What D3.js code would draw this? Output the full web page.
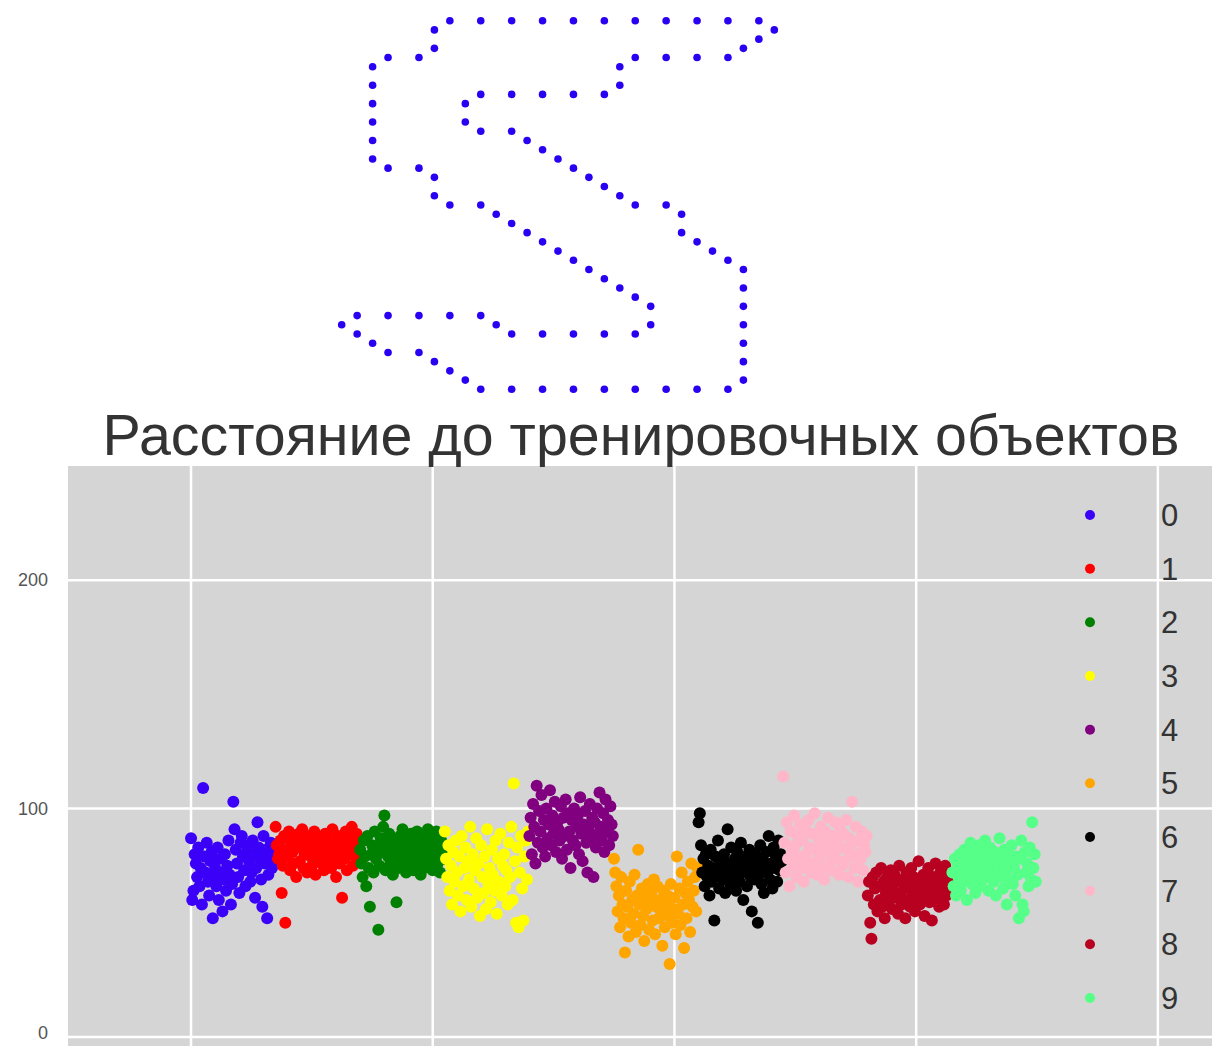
<!DOCTYPE html>
<html>
<head>
<meta charset="utf-8">
<script src="https://cdn.jsdelivr.net/npm/d3@7"></script>
<style>
  html, body { margin: 0; padding: 0; background: #ffffff; }
  svg { display: block; }
</style>
</head>
<body>
<svg id="chart" width="1219" height="1046"></svg>
<script>
// ---------- data ----------
const titleText = "Расстояние до тренировочных объектов";
const classLabels = ["0","1","2","3","4","5","6","7","8","9"];
const classColors = ["#3a00f8","#ff0000","#008000","#ffff00","#800080","#ffa500","#000000","#ffb6c8","#b80020","#55ff88"];
const yTicks = [0, 100, 200];
const xGrid = [0, 200, 400, 600, 800];

// distances to training objects, 70 per class
const dist0 = [
  87, 60, 64, 80, 76, 70, 83, 66, 74, 58,
  109, 79, 72, 85, 68, 62, 77, 81, 52, 70,
  74, 66, 83, 60, 78, 72, 55, 69, 80, 64,
  75, 86, 71, 58, 67, 103, 91, 82, 76, 70,
  63, 85, 88, 79, 73, 66, 81, 84, 77, 68,
  72, 86, 80, 61, 74, 94, 83, 78, 69, 57,
  88, 76, 82, 52, 71, 79, 85, 74, 80, 77];
const dist1 = [
  92, 84, 78, 80, 86, 63, 75, 88, 50, 82,
  79, 90, 73, 85, 81, 76, 87, 70, 83, 89,
  77, 84, 91, 74, 80, 86, 72, 82, 88, 79,
  75, 83, 90, 71, 85, 78, 81, 87, 76, 84,
  73, 89, 80, 82, 77, 86, 74, 91, 79, 83,
  70, 85, 88, 76, 81, 61, 84, 78, 90, 73,
  87, 80, 82, 92, 75, 86, 79, 89, 83, 77];
const dist2 = [
  82, 76, 70, 86, 79, 66, 88, 74, 57, 80,
  84, 72, 90, 78, 83, 47, 75, 87, 81, 92,
  97, 73, 85, 79, 89, 76, 82, 71, 86, 78,
  59, 84, 74, 88, 80, 91, 77, 83, 72, 86,
  79, 75, 89, 81, 73, 85, 78, 90, 76, 83,
  71, 87, 80, 74, 84, 78, 91, 82, 77, 88,
  73, 85, 79, 90, 76, 83, 72, 86, 80, 78];
const dist3 = [
  90, 78, 70, 84, 64, 75, 58, 81, 68, 86,
  72, 62, 79, 55, 88, 66, 74, 83, 60, 77,
  69, 92, 57, 80, 65, 73, 87, 61, 76, 53,
  84, 70, 63, 79, 56, 91, 67, 74, 59, 82,
  71, 64, 86, 54, 78, 68, 89, 62, 75, 80,
  66, 73, 58, 85, 70, 92, 60, 111, 77, 50,
  83, 48, 72, 88, 65, 51, 79, 86, 69, 90];
const dist4 = [
  88, 96, 80, 102, 92, 76, 110, 85, 99, 90,
  106, 83, 95, 79, 100, 87, 93, 108, 84, 97,
  89, 103, 81, 94, 91, 86, 101, 78, 96, 88,
  104, 82, 98, 90, 74, 95, 86, 100, 84, 92,
  97, 80, 105, 89, 77, 93, 99, 85, 72, 91,
  102, 87, 96, 70, 94, 83, 100, 89, 107, 92,
  86, 98, 81, 104, 90, 95, 84, 101, 93, 88];
const dist5 = [
  78, 72, 66, 55, 62, 48, 70, 58, 52, 37,
  64, 57, 44, 68, 50, 60, 54, 71, 46, 62,
  82, 58, 49, 65, 53, 42, 61, 56, 67, 47,
  59, 63, 51, 69, 45, 57, 66, 52, 60, 55,
  40, 64, 48, 58, 62, 53, 32, 67, 50, 56,
  61, 45, 79, 54, 65, 49, 72, 58, 39, 63,
  52, 68, 60, 46, 76, 57, 64, 70, 55, 74];
const dist6 = [
  94, 98, 84, 72, 78, 66, 80, 70, 75, 62,
  82, 68, 74, 51, 79, 71, 86, 65, 77, 73,
  69, 80, 63, 76, 91, 72, 67, 83, 74, 70,
  78, 64, 81, 75, 68, 85, 72, 60, 77, 79,
  66, 73, 82, 70, 55, 76, 69, 80, 74, 50,
  71, 84, 67, 78, 63, 75, 81, 72, 88, 69,
  76, 65, 83, 74, 79, 68, 86, 73, 80, 77];
const dist7 = [
  114, 85, 72, 94, 78, 66, 90, 81, 75, 97,
  84, 70, 88, 79, 93, 74, 86, 68, 91, 80,
  77, 95, 83, 72, 89, 76, 98, 82, 71, 87,
  79, 92, 74, 85, 69, 90, 81, 96, 76, 84,
  73, 88, 80, 94, 78, 86, 71, 91, 83, 75,
  89, 77, 95, 82, 70, 87, 79, 103, 85, 74,
  92, 80, 68, 86, 78, 90, 73, 84, 81, 88];
const dist8 = [
  62, 68, 50, 43, 70, 58, 65, 72, 55, 66,
  60, 74, 57, 68, 52, 63, 70, 59, 66, 73,
  56, 64, 71, 61, 68, 54, 75, 62, 58, 69,
  65, 52, 72, 60, 67, 57, 74, 63, 70, 55,
  66, 61, 77, 58, 69, 64, 71, 53, 68, 62,
  74, 59, 66, 51, 70, 63, 76, 60, 67, 57,
  72, 64, 69, 58, 75, 62, 68, 65, 71, 66];
const dist9 = [
  72, 66, 78, 62, 75, 70, 80, 64, 74, 68,
  82, 76, 60, 79, 71, 85, 67, 74, 81, 63,
  77, 69, 84, 73, 66, 80, 75, 86, 70, 78,
  64, 83, 72, 76, 68, 81, 62, 79, 74, 87,
  70, 77, 65, 82, 73, 58, 80, 69, 76, 84,
  67, 74, 62, 79, 71, 52, 78, 86, 58, 55,
  81, 72, 76, 66, 83, 69, 94, 74, 80, 68];
const distances = [dist0, dist1, dist2, dist3, dist4, dist5, dist6, dist7, dist8, dist9];

// the test digit "5", drawn as a dotted outline (column, row)
const digitX = [7,9,11,13,15,17,19,21,23,25,27, 6,28, 27, 6,26, 3,5,19,21,23,25, 2,18, 2,18, 9,11,13,15,17, 2,8, 2,8, 9,11, 2,12, 13, 2,14, 3,5,15, 6,16, 17, 6,18, 7,9,19,21, 10,22, 11, 12,22, 13,23, 14,24, 15,25, 16,26, 17, 18,26, 19, 20,26, 1,3,5,7,9, 0,10,20,26, 1,11,13,15,17,19, 2,26, 3,5, 6,26, 7, 8,26, 9,11,13,15,17,19,21,23,25];
const digitY = [0,0,0,0,0,0,0,0,0,0,0, 1,1, 2, 3,3, 4,4,4,4,4,4, 5,5, 7,7, 8,8,8,8,8, 9,9, 11,11, 12,12, 13,13, 14, 15,15, 16,16,16, 17,17, 18, 19,19, 20,20,20,20, 21,21, 22, 23,23, 24,24, 25,25, 26,26, 27,27, 28, 29,29, 30, 31,31, 32,32,32,32,32, 33,33,33,33, 34,34,34,34,34,34, 35,35, 36,36, 37,37, 38, 39,39, 40,40,40,40,40,40,40,40,40];

// ---------- layout ----------
const svg = d3.select("#chart");
const plotL = 68, plotR = 1212, plotT = 466, plotB = 1046;

// digit panel
const dx = d3.scaleLinear().domain([0, 28]).range([341.7, 774.3]);
const dy = d3.scaleLinear().domain([0, 40]).range([20.7, 389.3]);
svg.append("g").selectAll("circle")
  .data(digitX.map((c, i) => ({c, r: digitY[i]})))
  .join("circle")
  .attr("cx", d => dx(d.c))
  .attr("cy", d => dy(d.r))
  .attr("r", 3.8)
  .attr("fill", "#2a00f2");

// scatter panel
const x = d3.scaleLinear().domain([-101.8, 844.8]).range([plotL, plotR]);
const y = d3.scaleLinear().domain([0, 250]).range([1037, plotT]);

svg.append("rect")
  .attr("x", plotL).attr("y", plotT)
  .attr("width", plotR - plotL).attr("height", plotB - plotT + 10)
  .attr("fill", "#d5d5d5");

const grid = svg.append("g").attr("stroke", "#ffffff").attr("stroke-width", 2.5);
grid.selectAll("line.v").data(xGrid).join("line").attr("class", "v")
  .attr("x1", d => x(d)).attr("x2", d => x(d))
  .attr("y1", plotT).attr("y2", plotB + 10);
grid.selectAll("line.h").data(yTicks).join("line").attr("class", "h")
  .attr("x1", plotL).attr("x2", plotR)
  .attr("y1", d => y(d)).attr("y2", d => y(d));

// y axis labels
const yAxis = d3.axisLeft(y).tickValues(yTicks).tickSize(0).tickPadding(20).tickFormat(d3.format("d"));
const ya = svg.append("g").attr("transform", `translate(${plotL},0)`).call(yAxis);
ya.select(".domain").remove();
ya.selectAll("text")
  .attr("font-family", "'Liberation Sans', Arial, sans-serif")
  .attr("font-size", 18)
  .attr("fill", "#555555");
ya.selectAll(".tick").filter(d => d === 0).select("text").attr("dy", "0.1em");

// points
const points = [];
distances.forEach((arr, k) => arr.forEach((v, j) => points.push({k, idx: k * arr.length + j, v})));
svg.append("g").selectAll("circle")
  .data(points)
  .join("circle")
  .attr("cx", d => x(d.idx))
  .attr("cy", d => y(d.v))
  .attr("r", 6)
  .attr("fill", d => classColors[d.k]);

// legend
const legY = d3.scalePoint().domain(classLabels).range([515, 998]);
const leg = svg.append("g");
leg.selectAll("circle").data(classLabels).join("circle")
  .attr("cx", 1090).attr("cy", d => legY(d)).attr("r", 5)
  .attr("fill", (d, i) => classColors[i]);
leg.selectAll("text").data(classLabels).join("text")
  .attr("x", 1161).attr("y", d => legY(d))
  .attr("dy", "0.36em")
  .attr("font-family", "'Liberation Sans', Arial, sans-serif")
  .attr("font-size", 31)
  .attr("fill", "#333333")
  .text(d => d);

// title
const title = svg.append("text")
  .attr("x", 641).attr("y", 455)
  .attr("text-anchor", "middle")
  .attr("font-family", "'Liberation Sans', Arial, sans-serif")
  .attr("font-size", 50)
  .attr("fill", "#333333")
  .text(titleText);
const w = title.node().getComputedTextLength();
title.attr("font-size", 50 * 1077 / w);
</script>
</body>
</html>
